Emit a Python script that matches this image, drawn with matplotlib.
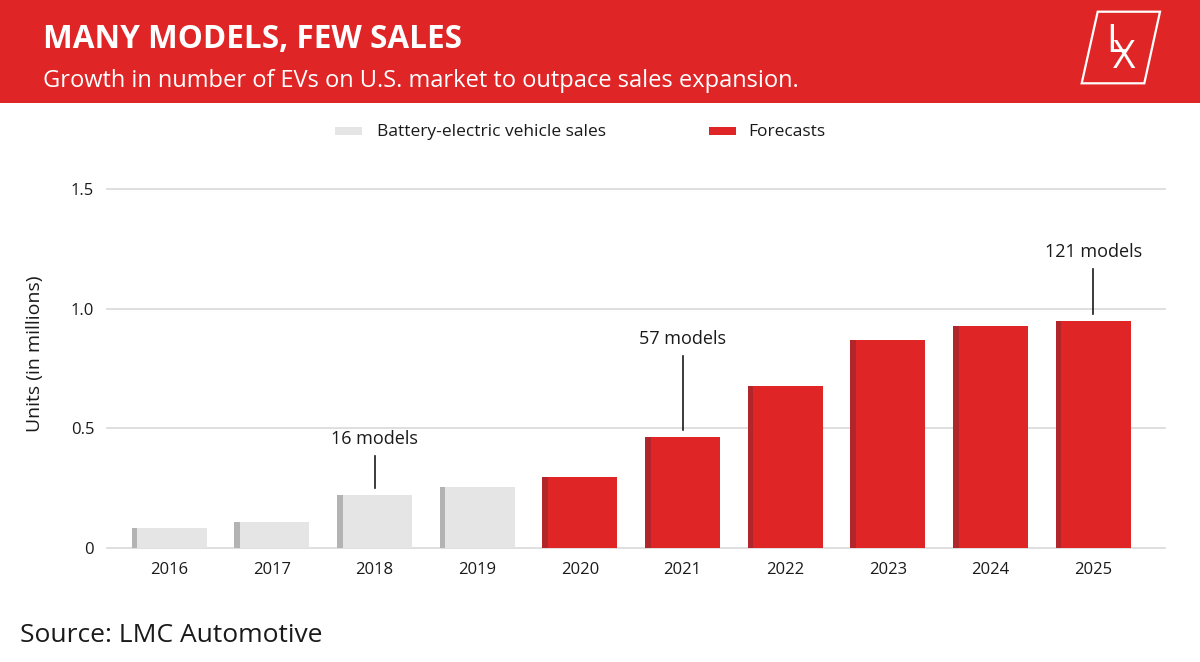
import numpy as np
import matplotlib
matplotlib.use('Agg')
import matplotlib.pyplot as plt
from matplotlib.patches import Rectangle, Polygon

plt.rcParams['font.family'] = ['Open Sans', 'DejaVu Sans']

# data
years = ['2016', '2017', '2018', '2019', '2020', '2021', '2022', '2023', '2024', '2025']
units = [0.084, 0.108, 0.221, 0.252, 0.295, 0.462, 0.676, 0.870, 0.926, 0.949]
is_forecast = [False, False, False, False, True, True, True, True, True, True]
model_years = ['2018', '2021', '2025']
model_counts = [16, 57, 121]
y_ticks = [0, 0.5, 1.0, 1.5]
y_tick_labels = ['0', '0.5', '1.0', '1.5']

# styles
RED = '#e02527'
RED_DARK = '#b0262a'
GREY = '#e5e5e5'
GREY_DARK = '#b3b3b3'
GRID = '#d9d9d9'
TXT = '#1a1a1a'
leader_px = [32, 74, 45]  # lengths of the annotation leader lines

W, H = 1200, 662
fig = plt.figure(figsize=(W / 100, H / 100), dpi=100)
fig.patch.set_facecolor('white')

# header band
fig.patches.append(Rectangle((0, 1 - 103 / H), 1, 103 / H, transform=fig.transFigure,
                             facecolor=RED, edgecolor='none', zorder=0))
fig.text(43 / W, 1 - 48 / H, 'MANY MODELS, FEW SALES', color='white', fontsize=22.7,
         fontweight='bold', ha='left', va='baseline')
fig.text(43 / W, 1 - 87 / H, 'Growth in number of EVs on U.S. market to outpace sales expansion.',
         color='white', fontsize=17, ha='left', va='baseline')

# logo
logo = [(1097.7, 11.7), (1160, 11.7), (1144.3, 83.3), (1081.7, 83.3)]
fig.patches.append(Polygon([(x / W, 1 - y / H) for x, y in logo], closed=True,
                           transform=fig.transFigure, facecolor='none',
                           edgecolor='white', linewidth=1.6))
fig.text(1116 / W, 1 - 42 / H, 'L', color='white', fontsize=28,
         ha='center', va='center')
fig.text(1124 / W, 1 - 58 / H, 'X', color='white', fontsize=28,
         ha='center', va='center')

# axes
ax = fig.add_axes([106.7 / W, 1 - 547.7 / H, (1165 - 106.7) / W, (547.7 - 189) / H])
x = np.arange(len(years))
ax.set_xlim(-0.61, 9.70)
ax.set_ylim(0, 1.5)

for t in y_ticks:
    ax.axhline(t, color=GRID, linewidth=1.2, zorder=0, clip_on=False)

bw = 0.73
strip = 0.055
main_cols = [RED if f else GREY for f in is_forecast]
dark_cols = [RED_DARK if f else GREY_DARK for f in is_forecast]
ax.bar(x, units, width=bw, color=main_cols, zorder=2)
ax.bar(x - bw / 2, units, width=strip, align='edge', color=dark_cols, zorder=3)

for spine in ax.spines.values():
    spine.set_visible(False)
ax.set_xticks(x)
ax.set_xticklabels(years, fontsize=12, color=TXT)
ax.set_yticks(y_ticks)
ax.set_yticklabels(y_tick_labels, fontsize=12, color=TXT)
ax.tick_params(length=0)
ax.tick_params(axis='x', pad=10)
ax.tick_params(axis='y', pad=9)
ax.set_ylabel('Units (in millions)', fontsize=14, color=TXT)
ax.yaxis.set_label_coords(-(106.7 - 44) / (1165 - 106.7), 0.54)

# model annotations
inv = ax.transData.inverted()
for yr, cnt, L in zip(model_years, model_counts, leader_px):
    i = years.index(yr)
    v = units[i]
    y0 = ax.transData.transform((i, v))[1] + 7
    y1 = y0 + L
    ax.plot([i, i], [inv.transform((0, y0))[1], inv.transform((0, y1))[1]],
            color=TXT, linewidth=1.2, zorder=4, clip_on=False)
    ax.annotate(f'{cnt} models', xy=(i, v), xytext=(0, 7 + L + 17),
                textcoords='offset pixels', ha='center', va='center',
                fontsize=13, color=TXT, annotation_clip=False)

# legend
fig.patches.append(Rectangle((335 / W, 1 - 135 / H), 27 / W, 8 / H, transform=fig.transFigure,
                             facecolor=GREY, edgecolor='none'))
fig.text(377 / W, 1 - 132 / H, 'Battery-electric vehicle sales', fontsize=12.5, color=TXT,
         ha='left', va='center')
fig.patches.append(Rectangle((709 / W, 1 - 135 / H), 27 / W, 8 / H, transform=fig.transFigure,
                             facecolor=RED, edgecolor='none'))
fig.text(748 / W, 1 - 132 / H, 'Forecasts', fontsize=12.5, color=TXT, ha='left', va='center')

fig.text(20 / W, 1 - 642 / H, 'Source: LMC Automotive', fontsize=19, color=TXT,
         ha='left', va='baseline')

fig.savefig('out.png', dpi=100)
